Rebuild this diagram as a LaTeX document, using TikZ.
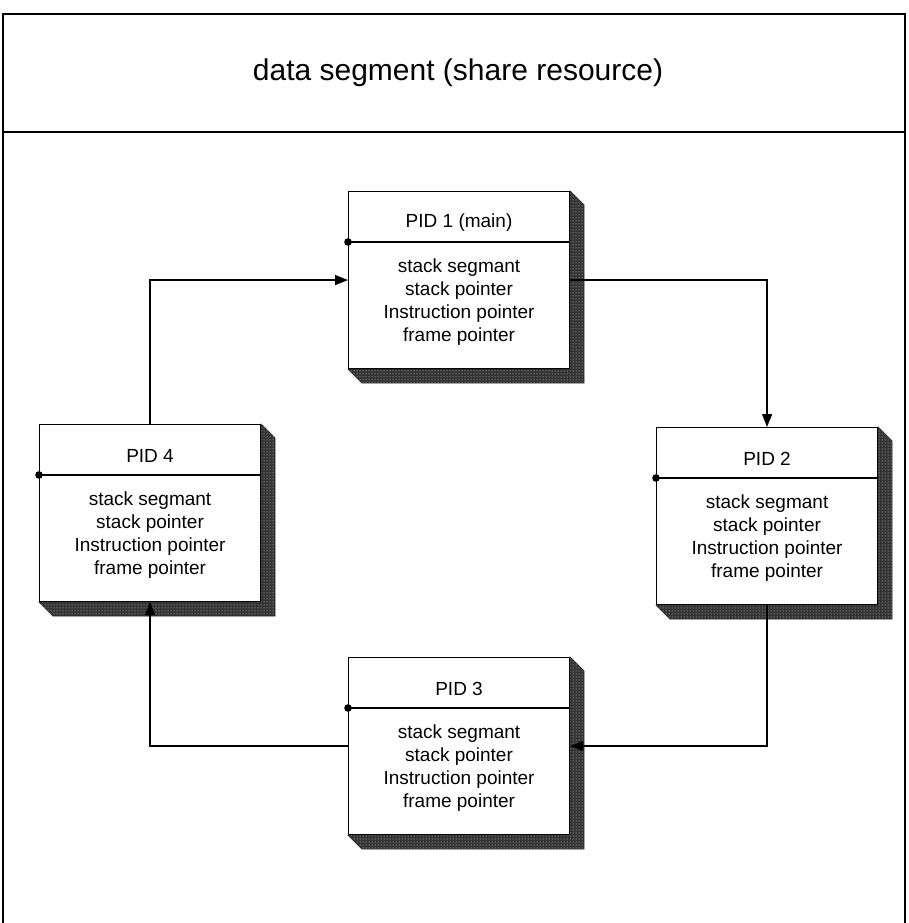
\documentclass[tikz,border=0pt]{standalone}
\usepackage{fontspec}
\setmainfont{Liberation Sans}
\usetikzlibrary{calc,patterns,arrows.meta}

\tikzset{
  pidbox/.style={draw, line width=1.1pt, fill=white, anchor=north west,
    minimum width=221pt, minimum height=177pt, inner sep=0pt},
  pidhead/.style={font=\fontsize{19}{23}\selectfont},
  pidbody/.style={font=\fontsize{19}{23}\selectfont, align=center},
  pidshade/.style={fill=black!80, draw=black!85, line width=0.6pt},
  link/.style={line width=1.4pt, -{Triangle[length=13pt,width=10pt]}},
  title/.style={font=\fontsize{30}{35}\selectfont},
}

% name, top left corner, title, body
\newcommand\pid[4]{%
  \node[pidbox] (#1) at (#2) {};
  \filldraw[pidshade] (#1.north east) -- ++(14,14) -- ($(#1.south east)+(14,14)$)
    -- ($(#1.south west)+(14,14)$) -- (#1.south west) -- (#1.south east) -- cycle;
  \fill[pattern=dots, pattern color=white!85!black] (#1.north east) -- ++(14,14)
    -- ($(#1.south east)+(14,14)$) -- ($(#1.south west)+(14,14)$)
    -- (#1.south west) -- (#1.south east) -- cycle;
  \draw[line width=1.1pt] ($(#1.north west)+(0,51)$) -- ($(#1.north east)+(0,51)$);
  \fill ($(#1.north west)+(0,51)$) circle (3.8pt);
  \node[pidhead] (#1-head) at ($(#1.north)+(0,32)$) {#3};
  \node[pidbody] (#1-body) at ($(#1.north)+(0,111)$) {#4};
}

\begin{document}
\begin{tikzpicture}[x=1pt,y=-1pt]
		%%%%% START %%%%%
		\useasboundingbox (0,0) rectangle (908,923);
		
		% page frame and heading
		\draw[line width=1.2pt] (3,960) -- (3,14) -- (905,14) -- (905,960);
		\draw[line width=1.2pt] (3,132) -- (905,132);
		\node[title] (heading) at (458,73) {data segment (share resource)};
		
		% processes
		\pid{p1}{348,191}{PID 1 (main)}{stack segmant\\stack pointer\\Instruction pointer\\frame pointer}
		\pid{p2}{656,427}{PID 2}{stack segmant\\stack pointer\\Instruction pointer\\frame pointer}
		\pid{p3}{348,657}{PID 3}{stack segmant\\stack pointer\\Instruction pointer\\frame pointer}
		\pid{p4}{39,424}{PID 4}{stack segmant\\stack pointer\\Instruction pointer\\frame pointer}
		
		% round robin
		\draw[link] (p1.east) -| (p2.north);
		\draw[link] (p2.south) |- (p3.east);
		\draw[link] (p3.west) -| (p4.south);
		\draw[link] (p4.north) |- (p1.west);
		
		%%%%% END %%%%%
\end{tikzpicture}
\end{document}
